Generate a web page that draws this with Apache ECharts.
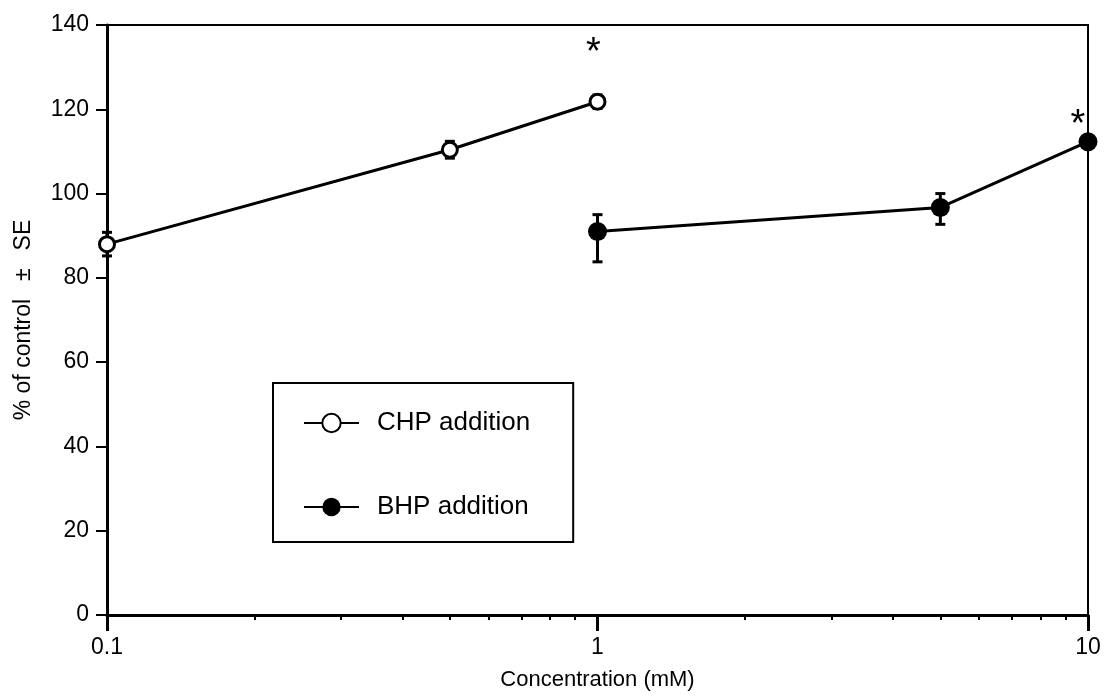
<!DOCTYPE html>
<html>
<head>
<meta charset="utf-8">
<title>CHP / BHP</title>
<script src="https://cdn.jsdelivr.net/npm/echarts@6/dist/echarts.min.js"></script>
<style>
  html, body { margin: 0; padding: 0; background: #fff; }
  #main { width: 1107px; height: 696px; }
</style>
</head>
<body>
<div id="main"></div>
<script>
// concentrations (mM)
var chpConc = [0.1, 0.5, 1];
var chpMean = [88, 110.4, 121.8];
var chpLow = [85.2, 108.4, 120.2];
var chpHigh = [90.8, 112.4, 123.4];

var bhpConc = [1, 5, 10];
var bhpMean = [91, 96.7, 112.3];
var bhpLow = [83.8, 92.7, 111];
var bhpHigh = [95, 100, 113.6];

// significance marks
var chpStar = [false, false, true];
var bhpStar = [false, false, true];

var xMajor = [0.1, 1, 10];
var xMinor = [0.2, 0.3, 0.4, 0.5, 0.6, 0.7, 0.8, 0.9, 2, 3, 4, 5, 6, 7, 8, 9];

var font = '"Liberation Sans", Arial, Helvetica, sans-serif';

function points(xs, ys, stars, off) {
    var out = [];
    for (var i = 0; i < xs.length; i++) {
        var item = { value: [xs[i], ys[i]] };
        if (stars[i]) {
            item.label = {
                show: true, formatter: '*', position: 'inside',
                offset: off,
                fontSize: 38, color: '#000', fontFamily: font
            };
        }
        out.push(item);
    }
    return out;
}

function bars(xs, lo, hi) {
    var out = [];
    for (var i = 0; i < xs.length; i++) out.push([xs[i], lo[i], hi[i]]);
    return out;
}

function errorItem(params, api) {
    var x = api.value(0);
    var top = api.coord([x, api.value(2)]);
    var bot = api.coord([x, api.value(1)]);
    var half = 5;
    var st = { stroke: '#000', lineWidth: 3 };
    return {
        type: 'group',
        children: [
            { type: 'line', shape: { x1: top[0], y1: top[1], x2: bot[0], y2: bot[1] }, style: st },
            { type: 'line', shape: { x1: top[0] - half, y1: top[1], x2: top[0] + half, y2: top[1] }, style: st },
            { type: 'line', shape: { x1: bot[0] - half, y1: bot[1], x2: bot[0] + half, y2: bot[1] }, style: st }
        ]
    };
}

var myChart = echarts.init(document.getElementById('main'));

var option = {
    backgroundColor: '#fff',
    animation: false,
    textStyle: { fontFamily: font, color: '#000' },
    grid: {
        left: 107, right: 19, top: 25, bottom: 79,
        show: true, borderColor: '#000', borderWidth: 2
    },
    legend: {
        data: ['CHP addition', 'BHP addition'],
        orient: 'vertical',
        left: 273, top: 383,
        padding: [27, 43, 22, 30],
        itemGap: 58,
        itemWidth: 55, itemHeight: 23,
        borderColor: '#000', borderWidth: 2,
        textStyle: { fontSize: 26, color: '#000', fontFamily: font, padding: [0, 0, 0, 13] }
    },
    xAxis: [{
        type: 'log', logBase: 10, min: 0.1, max: 10,
        name: 'Concentration (mM)', nameLocation: 'middle', nameGap: 54,
        nameTextStyle: { fontSize: 22, color: '#000' },
        axisLine: { show: true, onZero: false, lineStyle: { color: '#000', width: 3 } },
        axisTick: { show: true, inside: false, length: 16, lineStyle: { color: '#000', width: 3 }, customValues: xMajor },
        axisLabel: { fontSize: 23, color: '#000', margin: 21, customValues: xMajor, formatter: function (v) { return String(v); } },
        splitLine: { show: false }
    }, {
        type: 'log', logBase: 10, min: 0.1, max: 10,
        position: 'bottom',
        axisLine: { show: false },
        axisTick: { show: true, length: 5, lineStyle: { color: '#000', width: 2 }, customValues: xMinor },
        axisLabel: { show: false },
        splitLine: { show: false }
    }],
    yAxis: {
        type: 'value', min: 0, max: 140, interval: 20,
        name: '% of control \u2002\u00b1\u2002 SE', nameLocation: 'middle', nameGap: 72,
        nameTextStyle: { fontSize: 23, color: '#000' },
        axisLine: { show: true, lineStyle: { color: '#000', width: 3 } },
        axisTick: { show: true, length: 11, lineStyle: { color: '#000', width: 2 } },
        axisLabel: { fontSize: 23, color: '#000', margin: 18 },
        splitLine: { show: false }
    },
    series: [{
        name: 'CHP addition',
        type: 'line',
        data: points(chpConc, chpMean, chpStar, [-4, -48]),
        symbol: 'circle', symbolSize: 15,
        lineStyle: { color: '#000', width: 3 },
        itemStyle: { color: '#fff', borderColor: '#000', borderWidth: 3 },
        z: 3
    }, {
        name: 'BHP addition',
        type: 'line',
        data: points(bhpConc, bhpMean, bhpStar, [-10, -16]),
        symbol: 'circle', symbolSize: 19,
        lineStyle: { color: '#000', width: 3 },
        itemStyle: { color: '#000', borderColor: '#000', borderWidth: 0 },
        z: 3
    }, {
        name: 'CHP error',
        type: 'custom',
        renderItem: errorItem,
        data: bars(chpConc, chpLow, chpHigh),
        z: 2
    }, {
        name: 'BHP error',
        type: 'custom',
        renderItem: errorItem,
        data: bars(bhpConc, bhpLow, bhpHigh),
        z: 2
    }]
};

myChart.setOption(option);
</script>
</body>
</html>
